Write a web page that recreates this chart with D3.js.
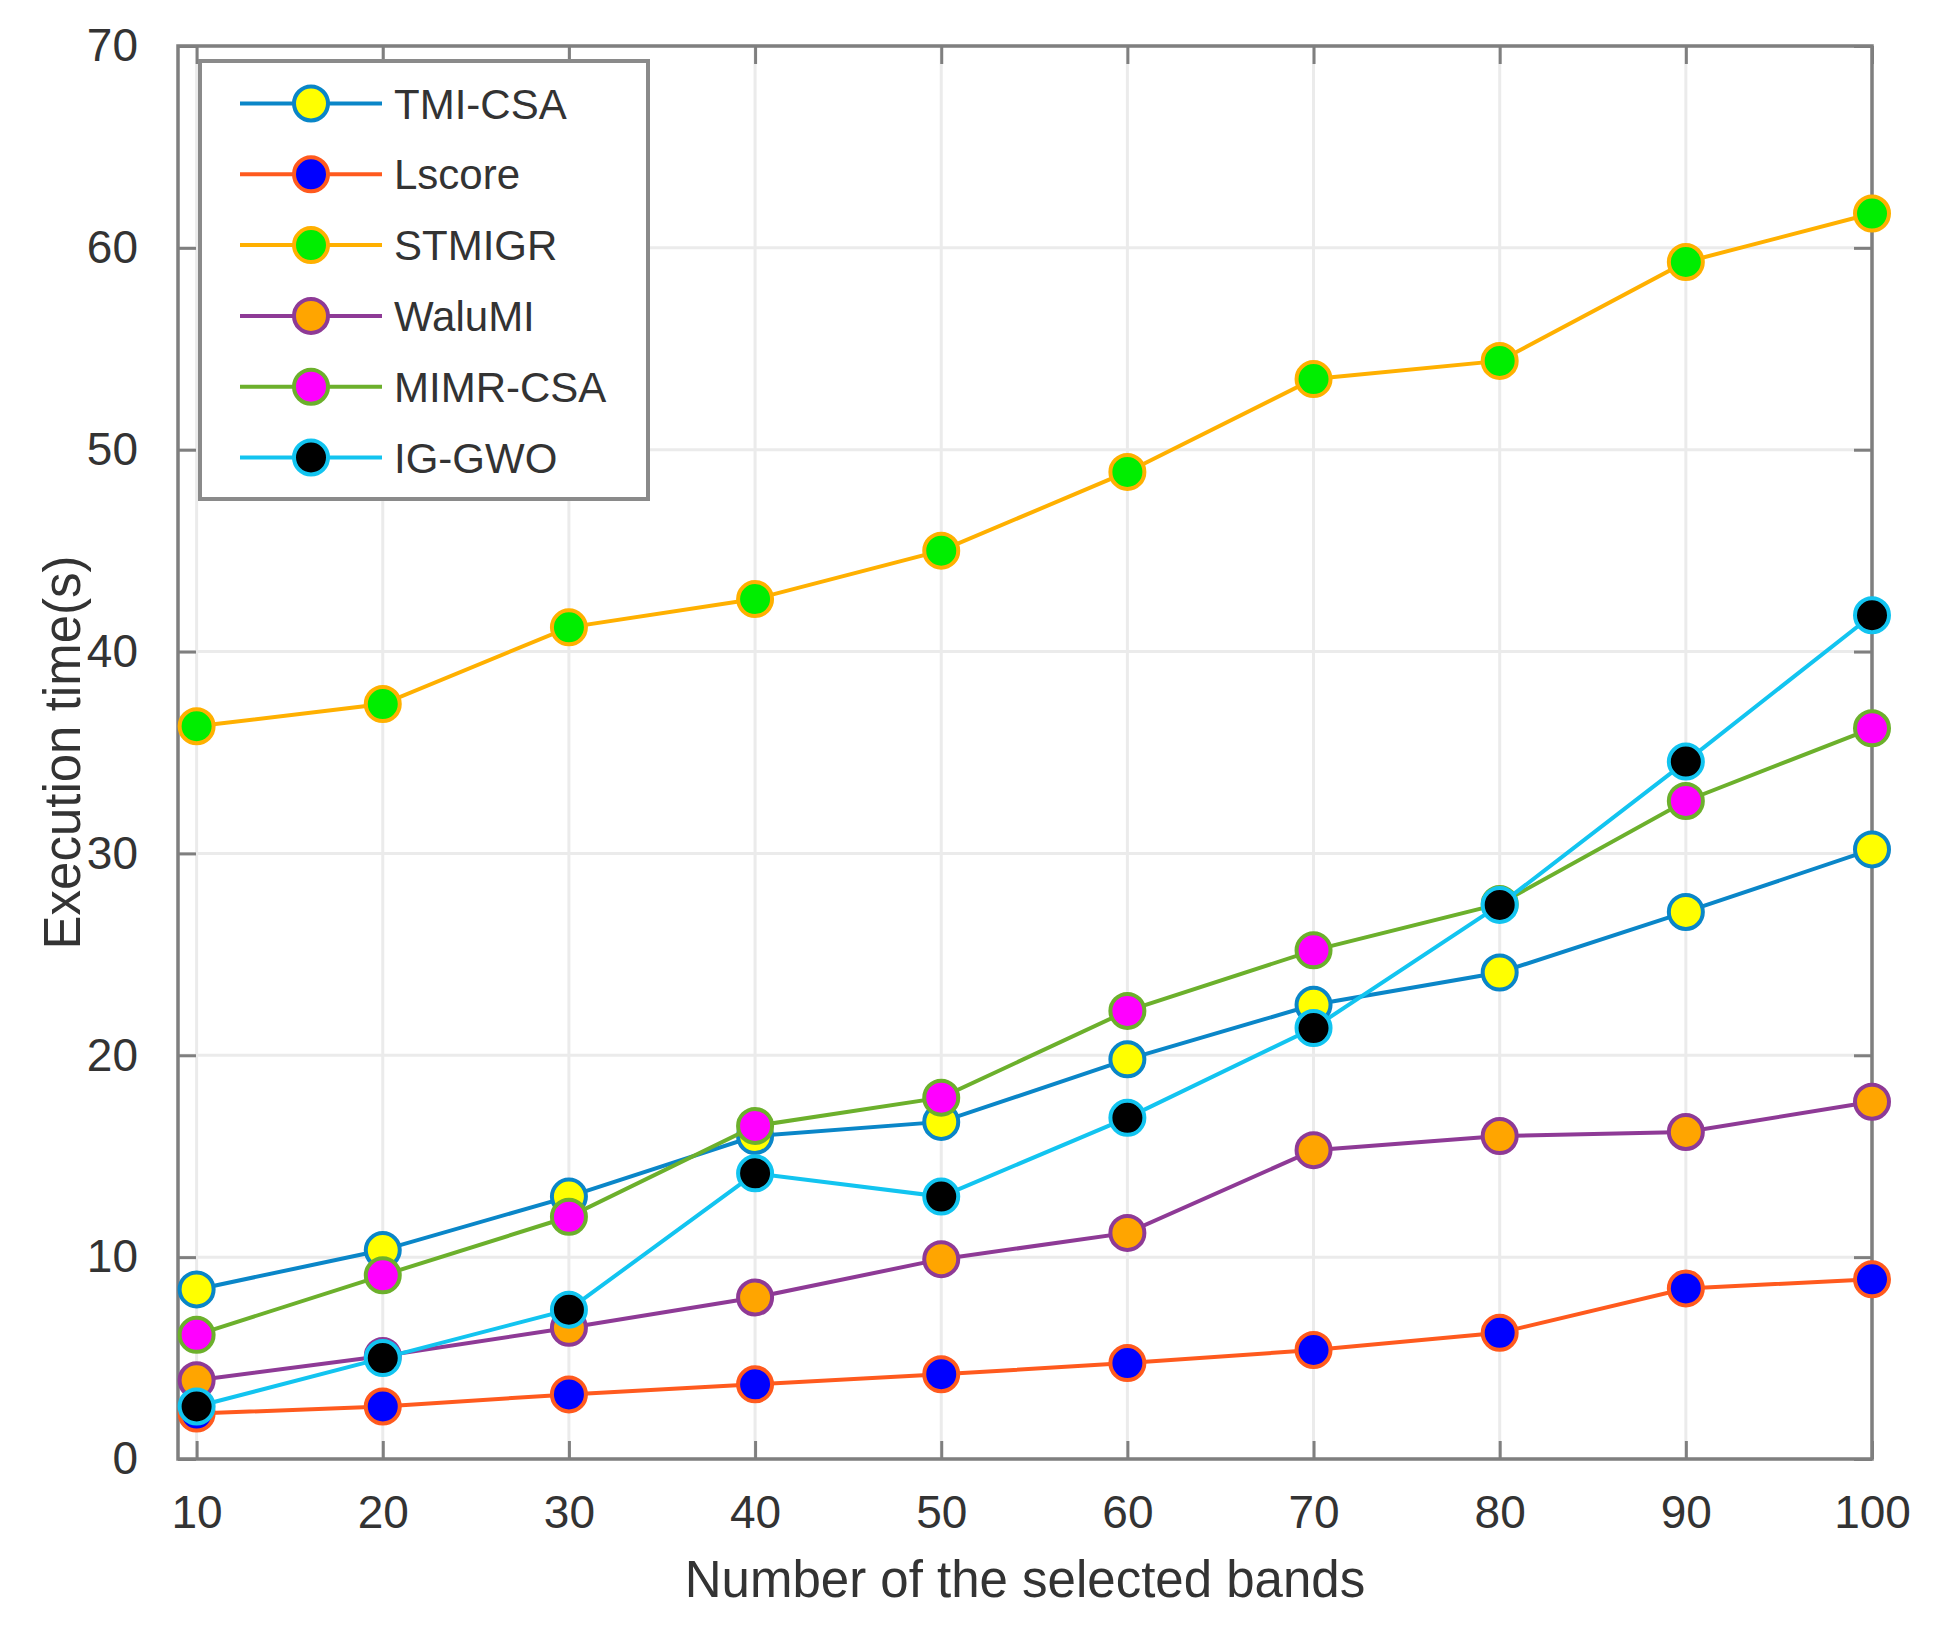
<!DOCTYPE html>
<html>
<head>
<meta charset="utf-8">
<script src="https://cdn.jsdelivr.net/npm/d3@7"></script>
<style>
  body { margin: 0; background: #fff; }
  text { font-family: "Liberation Sans", Arial, sans-serif; }
</style>
</head>
<body>
<div id="chart"></div>
<script>
// band counts on the x axis
var bands = [10, 20, 30, 40, 50, 60, 70, 80, 90, 100];

// execution time (s) per method
var tmiCsa  = [8.4, 10.35, 13.0, 16.0, 16.7, 19.8, 22.5, 24.1, 27.1, 30.2];
var lscore  = [2.25, 2.6, 3.2, 3.7, 4.2, 4.75, 5.4, 6.25, 8.45, 8.9];
var stmigr  = [36.3, 37.4, 41.2, 42.6, 45.0, 48.9, 53.5, 54.4, 59.3, 61.7];
var waluMi  = [3.9, 5.1, 6.5, 8.0, 9.9, 11.2, 15.3, 16.0, 16.2, 17.7];
var mimrCsa = [6.15, 9.1, 12.0, 16.5, 17.9, 22.2, 25.2, 27.5, 32.6, 36.2];
var igGwo   = [2.6, 5.0, 7.4, 14.15, 13.0, 16.9, 21.35, 27.45, 34.55, 41.8];

var seriesNames = ["TMI-CSA", "Lscore", "STMIGR", "WaluMI", "MIMR-CSA", "IG-GWO"];
var yTicks = [0, 10, 20, 30, 40, 50, 60, 70];

var lineColors = ["#0a86c8", "#ff5a1e", "#ffb000", "#8e3a96", "#6cb02c", "#12c4f0"];
var fillColors = ["#ffff00", "#0000ff", "#00ee00", "#ffa500", "#ff00ff", "#000000"];

var series = [tmiCsa, lscore, stmigr, waluMi, mimrCsa, igGwo].map(function(vals, i) {
  return {
    name: seriesNames[i],
    line: lineColors[i],
    fill: fillColors[i],
    values: vals.map(function(v, j) { return {band: bands[j], t: v}; })
  };
});

var W = 1954, H = 1637;
var margin = {top: 46, right: 82, bottom: 178, left: 178},
    width = W - margin.left - margin.right,
    height = H - margin.top - margin.bottom;

var svg = d3.select("#chart").append("svg")
    .attr("width", W)
    .attr("height", H);

var g = svg.append("g")
    .attr("transform", "translate(" + margin.left + "," + margin.top + ")");

var x = d3.scaleLinear().domain([9, 100]).range([0, width]);
var y = d3.scaleLinear().domain([0, 70]).range([height, 0]);

var axisColor = "#7f7f7f";
var tickLen = 18;

// grid
g.append("g").selectAll("line").data(bands).enter().append("line")
    .attr("x1", function(d) { return x(d); })
    .attr("x2", function(d) { return x(d); })
    .attr("y1", 0).attr("y2", height)
    .style("stroke", "#ebebeb").style("stroke-width", 3);

g.append("g").selectAll("line").data(yTicks).enter().append("line")
    .attr("y1", function(d) { return y(d); })
    .attr("y2", function(d) { return y(d); })
    .attr("x1", 0).attr("x2", width)
    .style("stroke", "#ebebeb").style("stroke-width", 3);

// axes (ticks pointing inward, box on)
function styleAxis(sel) {
  sel.select(".domain").remove();
  sel.selectAll(".tick line").style("stroke", axisColor).style("stroke-width", 3);
  sel.selectAll(".tick text")
      .style("font-size", "46px")
      .style("fill", "#333")
      .style("font-family", "'Liberation Sans', Arial, sans-serif");
}

g.append("g")
    .attr("transform", "translate(0," + height + ")")
    .call(d3.axisBottom(x).tickValues(bands).tickSize(-tickLen).tickPadding(36))
    .call(styleAxis);

g.append("g")
    .call(d3.axisTop(x).tickValues(bands).tickSize(-tickLen).tickFormat(""))
    .call(styleAxis);

g.append("g")
    .call(d3.axisLeft(y).tickValues(yTicks).tickSize(-tickLen).tickPadding(40))
    .call(styleAxis);

g.append("g")
    .attr("transform", "translate(" + width + ",0)")
    .call(d3.axisRight(y).tickValues(yTicks).tickSize(-tickLen).tickFormat(""))
    .call(styleAxis);

g.append("rect")
    .attr("width", width).attr("height", height)
    .style("fill", "none")
    .style("stroke", axisColor)
    .style("stroke-width", 3.5);

// lines and markers
var line = d3.line()
    .x(function(d) { return x(d.band); })
    .y(function(d) { return y(d.t); });

series.forEach(function(s) {
  g.append("path")
      .datum(s.values)
      .attr("d", line)
      .style("fill", "none")
      .style("stroke", s.line)
      .style("stroke-width", 4);

  g.append("g").selectAll("circle").data(s.values).enter().append("circle")
      .attr("cx", function(d) { return x(d.band); })
      .attr("cy", function(d) { return y(d.t); })
      .attr("r", 17)
      .style("fill", s.fill)
      .style("stroke", s.line)
      .style("stroke-width", 4);
});

// axis labels
svg.append("text")
    .attr("x", margin.left + width / 2)
    .attr("y", 1597)
    .attr("text-anchor", "middle")
    .style("font-size", "51px")
    .style("fill", "#333")
    .text("Number of the selected bands");

svg.append("text")
    .attr("transform", "translate(80," + (margin.top + height / 2) + ") rotate(-90)")
    .attr("text-anchor", "middle")
    .style("font-size", "51px")
    .style("fill", "#333")
    .text("Execution time(s)");

// legend
var legend = svg.append("g").attr("transform", "translate(200,61)");
legend.append("rect")
    .attr("width", 448).attr("height", 438)
    .style("fill", "#fff")
    .style("stroke", "#8a8a8a")
    .style("stroke-width", 4);

var item = legend.selectAll(".item").data(series).enter().append("g")
    .attr("transform", function(d, i) { return "translate(0," + (42.5 + i * 70.8) + ")"; });

item.append("line")
    .attr("x1", 40).attr("x2", 182)
    .style("stroke", function(d) { return d.line; })
    .style("stroke-width", 4);

item.append("circle")
    .attr("cx", 111).attr("r", 17)
    .style("fill", function(d) { return d.fill; })
    .style("stroke", function(d) { return d.line; })
    .style("stroke-width", 4);

item.append("text")
    .attr("x", 194).attr("dy", "0.36em")
    .style("font-size", "42px")
    .style("fill", "#333")
    .text(function(d) { return d.name; });
</script>
</body>
</html>
